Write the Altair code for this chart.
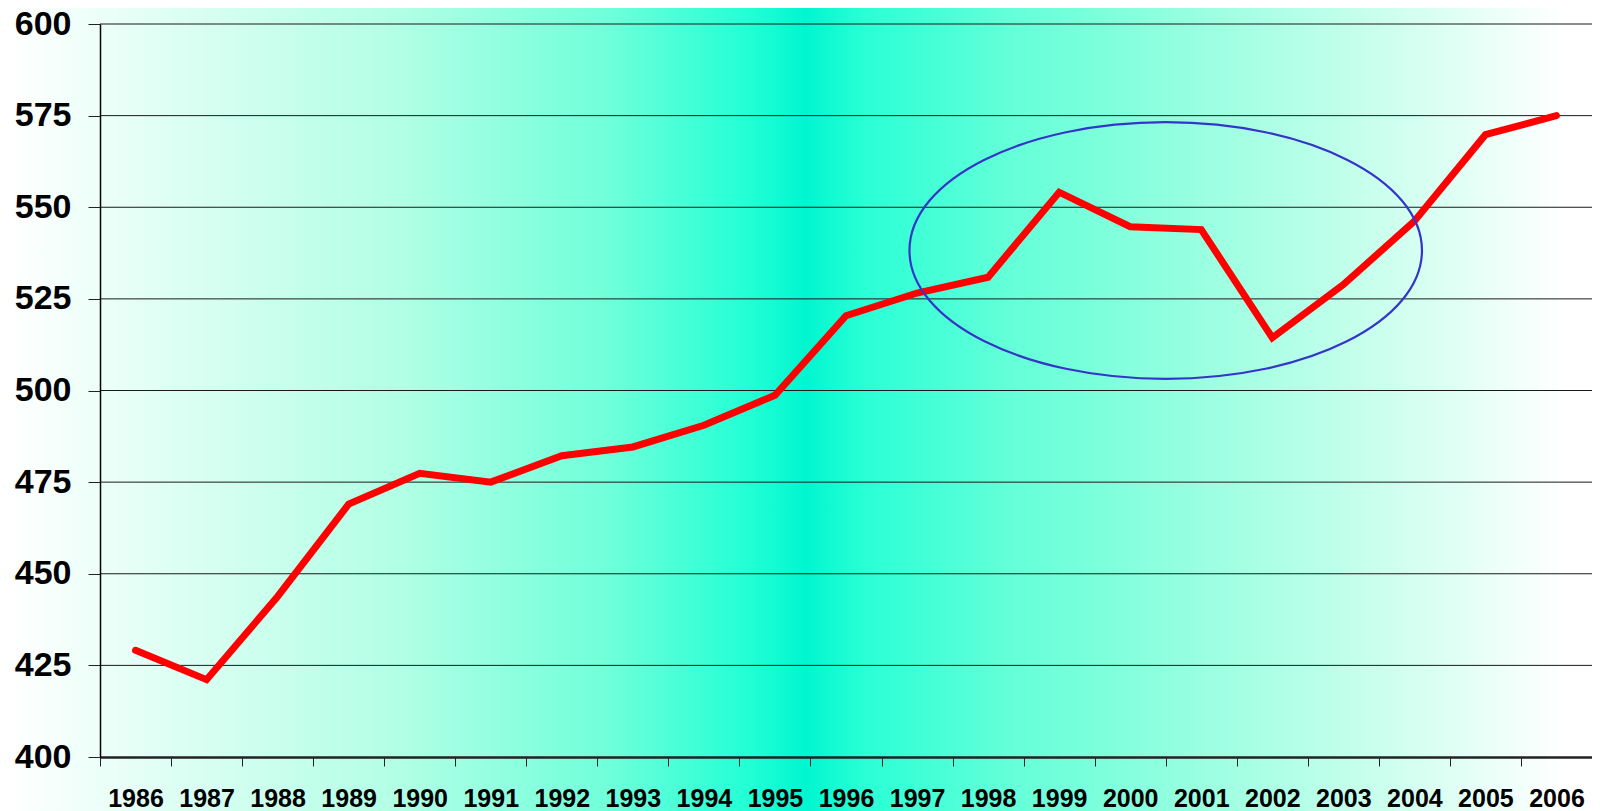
import altair as alt
import pandas as pd

years = [str(y) for y in range(1986, 2007)]
values = [429.1, 421.1, 443.8, 469.0, 477.4, 475.0, 482.2, 484.6, 490.5, 498.7,
          520.4, 526.6, 530.9, 554.1, 544.7, 543.9, 514.4, 528.9, 546.2, 569.8, 575.0]
y_ticks = [400, 425, 450, 475, 500, 525, 550, 575, 600]
grid_vals = [425, 450, 475, 500, 525, 550, 575, 600]
ellipse_center_year = ["2000"]
ellipse_center_value = [538.2]

W, H = 1492, 733

df = pd.DataFrame({"year": years, "value": values})
grid_df = pd.DataFrame({"value": grid_vals})
ell_df = pd.DataFrame({"year": ellipse_center_year, "value": ellipse_center_value})
bg_df = pd.DataFrame({"k": [0]})

xscale = alt.Scale(type="band", paddingInner=0, paddingOuter=0, domain=years)
yscale = alt.Scale(domain=[400, 600], nice=False, zero=False)

grad = alt.LinearGradient(
    gradient="linear", x1=0, x2=1, y1=0, y2=0,
    stops=[
        alt.GradientStop(color="#FFFFFF", offset=0.0),
        alt.GradientStop(color="#ECFFF8", offset=0.058),
        alt.GradientStop(color="#B0FFE4", offset=0.25),
        alt.GradientStop(color="#70FFDA", offset=0.378),
        alt.GradientStop(color="#22FFD5", offset=0.468),
        alt.GradientStop(color="#00F6D0", offset=0.504),
        alt.GradientStop(color="#2AFFD5", offset=0.541),
        alt.GradientStop(color="#62FFD8", offset=0.63),
        alt.GradientStop(color="#9AFFE0", offset=0.755),
        alt.GradientStop(color="#D0FFEF", offset=0.879),
        alt.GradientStop(color="#FFFFFF", offset=0.982),
        alt.GradientStop(color="#FFFFFF", offset=1.0),
    ],
)

bg = alt.Chart(bg_df).mark_rect(color=grad, strokeWidth=0).encode(
    x=alt.value(-92), x2=alt.value(W), y=alt.value(-16), y2=alt.value(H + 54)
)

grid = alt.Chart(grid_df).mark_rule(color="#1a1a1a", strokeWidth=1).encode(
    y=alt.Y("value:Q", scale=yscale),
    x=alt.value(0), x2=alt.value(W),
)

line = alt.Chart(df).mark_line(color="#FF0000", strokeWidth=7, strokeCap="round").encode(
    x=alt.X("year:O", scale=xscale, bandPosition=0.5,
            axis=alt.Axis(title=None, labelAngle=0, tickBand="extent", zindex=1,
                          labelFont="Liberation Sans", labelFontWeight="bold",
                          labelFontSize=25, labelColor="#000000", labelPadding=20,
                          tickSize=9, tickColor="#222222", tickWidth=1,
                          domainColor="#222222", domainWidth=2.5, grid=False)),
    y=alt.Y("value:Q", scale=yscale,
            axis=alt.Axis(title=None, values=y_ticks, labelFont="Liberation Sans", zindex=1,
                          labelFontWeight="bold", labelFontSize=34, labelColor="#000000",
                          labelPadding=17, tickSize=12, tickColor="#222222", tickWidth=1,
                          domainColor="#000000", domainWidth=1.5, grid=False)),
)

b = 0.501
k = 0.5523
path = (f"M -1 0 C -1 {-k*b} {-k} {-b} 0 {-b} C {k} {-b} 1 {-k*b} 1 0 "
        f"C 1 {k*b} {k} {b} 0 {b} C {-k} {b} -1 {k*b} -1 0 Z")

ellipse = alt.Chart(ell_df).mark_point(
    shape=path, size=512.5 ** 2, filled=False, stroke="#3535C8",
    strokeWidth=2.2, opacity=1
).encode(
    x=alt.X("year:O", scale=xscale, bandPosition=1),
    y=alt.Y("value:Q", scale=yscale),
)

chart = alt.layer(bg, grid, line, ellipse).properties(
    width=W, height=H,
    autosize=alt.AutoSizeParams(type="none"),
    padding={"left": 92, "top": 16, "right": 0, "bottom": 54},
).configure_view(stroke=None, fill=None).configure(background="#FFFFFF")

chart.save("out.html", embed_options={"renderer": "svg", "actions": False})
